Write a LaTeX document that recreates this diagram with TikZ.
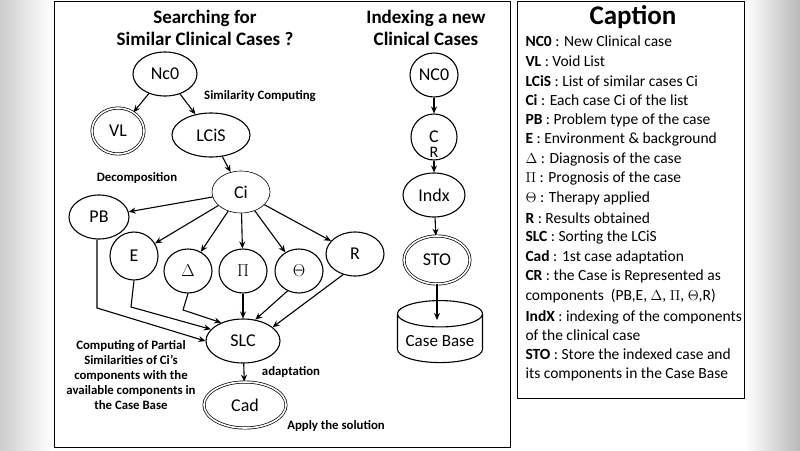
\documentclass[tikz,border=0pt]{standalone}
\usepackage{fontspec}
\setmainfont{Carlito}
\usetikzlibrary{shapes.geometric,arrows.meta}

\tikzset{
  st/.style={ellipse,draw,line width=1.1pt,inner sep=0pt,font=\fontsize{18}{20}\selectfont},
  dst/.style={st,double,double distance=1.6pt,line width=0.7pt},
  arr/.style={-{Stealth[length=7pt,width=6pt]},line width=1.1pt},
  note/.style={font=\fontsize{12.8}{14.8}\selectfont\bfseries,align=center},
  ttl/.style={font=\fontsize{19}{22}\selectfont\bfseries,align=center},
  capline/.style={anchor=west,font=\fontsize{15.5}{19.5}\selectfont}
}

\begin{document}
\begin{tikzpicture}[x=1pt,y=-1pt]
\useasboundingbox (0,0) rectangle (800,450);
% background
\shade[left color=gray!40,right color=white] (0,0) rectangle (52,450);
\shade[left color=white,right color=gray!55] (745,0) rectangle (800,450);
\draw[line width=0.8pt] (54,1) rectangle (510,447);
\draw[line width=0.8pt] (517,1) rectangle (744,398);

% titles
\node[ttl] (T1) at (205,28) {Searching for\\Similar Clinical Cases ?};
\node[ttl] (T2) at (426,28) {Indexing a new\\Clinical Cases};

% searching
\node[st,minimum width=64,minimum height=44] (Nc0) at (165,74) {Nc0};
\node[dst,minimum width=52,minimum height=46] (VL) at (118,131) {VL};
\node[st,minimum width=78,minimum height=44] (LCiS) at (211,135) {LCiS};
\node[st,line width=0.6pt,minimum width=58,minimum height=42] (Ci) at (241,192) {Ci};
\node[st,minimum width=60,minimum height=44] (PB) at (99,217) {PB};
\node[st,minimum width=48,minimum height=48] (E) at (134,256) {E};
\node[st,minimum width=48,minimum height=44] (D) at (188,271) {$\Delta$};
\node[st,minimum width=48,minimum height=44] (P) at (243,271) {$\Pi$};
\node[st,minimum width=48,minimum height=44] (Th) at (299,271) {$\Theta$};
\node[st,minimum width=58,minimum height=44] (R) at (355,254) {R};
\node[st,minimum width=74,minimum height=44] (SLC) at (243,341) {SLC};
\node[dst,minimum width=82,minimum height=46] (Cad) at (245,405) {Cad};

\draw[arr] (Nc0) -- (VL);
\draw[arr] (Nc0) -- (LCiS);
\draw[arr] (LCiS) -- (Ci);
\foreach \t in {PB,E,D,P,Th,R}
  \draw[arr] (Ci) -- (\t);
\draw[arr] (PB.265) -- (97,308) -- (SLC.180);
\draw[arr] (E.south) -- (131,307) -- (SLC.160);
\draw[arr] (D.south) -- (183,310) -- (SLC.140);
\draw[arr] (P) -- (SLC);
\draw[arr] (Th.240) -- (SLC.60);
\draw[arr] (R.240) -- (SLC.25);
\draw[arr] (SLC) -- (Cad);

\node[note] (n1) at (260,96) {Similarity Computing};
\node[note] (n2) at (137,178) {Decomposition};
\node[note] (n3) at (131,375) {Computing of Partial\\Similarities of Ci's\\components with the\\available components in\\the Case Base};
\node[note] (n4) at (291,372) {adaptation};
\node[note] (n5) at (336,426) {Apply the solution};

% indexing
\node[st,minimum width=48,minimum height=44] (NC0) at (434,75) {NC0};
\node[st,minimum width=46,minimum height=46,
  label={[label distance=-17pt,font=\fontsize{16}{18}\selectfont]below:R}] (CR) at (434,137) {C};
\node[st,minimum width=62,minimum height=44] (Indx) at (434,195) {Indx};
\node[dst,minimum width=66,minimum height=48] (STO) at (437,260) {STO};
\node[cylinder,draw,line width=1.1pt,shape border rotate=90,aspect=0.35,
  minimum width=85,minimum height=62,font=\fontsize{17}{19}\selectfont] (CB) at (440,341) {Case Base};
\coordinate (CBin) at (437,320);

\draw[arr] (NC0) -- (CR);
\draw[arr] (CR) -- (Indx);
\draw[arr] (Indx) -- (STO);
\draw[arr] (STO) -- (CBin);

% caption
\node[font=\fontsize{27}{29}\selectfont\bfseries] (Cap) at (633,17) {Caption};
\foreach \k/\v [count=\i] in {
  NC0/New Clinical case, VL/Void List, LCiS/List of similar cases Ci,
  Ci/Each case Ci of the list, PB/Problem type of the case,
  E/Environment \& background, $\Delta$/Diagnosis of the case,
  $\Pi$/Prognosis of the case, $\Theta$/Therapy applied,
  R/Results obtained, SLC/Sorting the LCiS, Cad/1st case adaptation}
  \node[capline] (c\i) at (522,22+19.6*\i) {\textbf{\k} : \v};
\node[capline,align=left] (c13) at (522,22+19.6*13.5) {\textbf{CR} : the Case is Represented as\\components\ \ (PB,E, $\Delta$, $\Pi$, $\Theta$,R)};
\node[capline,align=left] (c14) at (522,22+19.6*15.5) {\textbf{IndX} : indexing of the components\\of the clinical case};
\node[capline,align=left] (c15) at (522,22+19.6*17.5) {\textbf{STO} : Store the indexed case and\\its components in the Case Base};
\end{tikzpicture}
\end{document}
